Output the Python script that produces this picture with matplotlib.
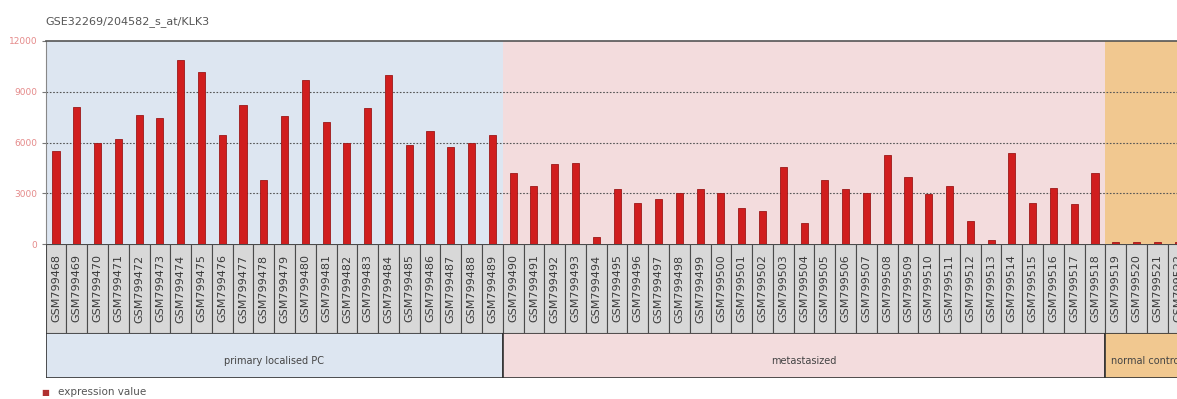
import numpy as np
import matplotlib.pyplot as plt
from matplotlib.patches import Rectangle
from matplotlib import font_manager

title = 'GSE32269/204582_s_at/KLK3'
groups = ['primary localised PC', 'metastasized', 'normal control']
group_sizes = [22, 29, 4]
group_colors = ['#dde6f1', '#f3dcdd', '#f1c890']
samples = ['GSM%d' % n for n in range(799468, 799468 + sum(group_sizes))]

primary = [5500, 8100, 5950, 6230, 7650, 7430, 10880, 10150, 6440, 8220, 3780,
           7590, 9690, 7190, 5990, 8020, 10010, 5850, 6700, 5750, 5950, 6440]
metastasized = [4180, 3430, 4730, 4810, 390, 3250, 2440, 2640, 3000, 3250, 3030,
                2110, 1950, 4570, 1260, 3780, 3230, 3000, 5260, 3960, 2960, 3450,
                1360, 240, 5400, 2440, 3290, 2350, 4180]
normal = [100, 100, 100, 100]
values = primary + metastasized + normal

yticks = [0, 3000, 6000, 9000, 12000]

# narrow font for the sample names if there is one
names = {f.name for f in font_manager.fontManager.ttflist}
narrow = 'Liberation Sans Narrow' if 'Liberation Sans Narrow' in names else 'DejaVu Sans'

W, H = 1177, 399
fig = plt.figure(figsize=(W / 100, H / 100), dpi=100)

left = 45.6
cell = 20.78
xmax = (W - left) / cell - 0.5
xlim = (-0.5, xmax)

def box(top, bottom):
    return [left / W, (H - bottom) / H, (W - left) / W, (bottom - top) / H]

ax = fig.add_axes(box(41, 244))
ax_lab = fig.add_axes(box(244, 333))
ax_grp = fig.add_axes(box(333, 378))

x = np.arange(len(values))
edges = np.concatenate([[0], np.cumsum(group_sizes)]) - 0.5

# background bands per group
for g in range(len(groups)):
    ax.axvspan(edges[g], edges[g + 1], color=group_colors[g], lw=0, zorder=0)

for y in yticks[1:-1]:
    ax.axhline(y, color='#555555', lw=0.8, ls=(0, (1.5, 1.5)), zorder=1)

ax.bar(x, values, width=0.34, color='#d01e1e', edgecolor='#9c1818', lw=0.6, zorder=2)
ax.set_xlim(xlim)
ax.set_ylim(0, 12000)
ax.set_xticks([])
ax.set_yticks(yticks)
ax.set_yticklabels([str(v) for v in yticks], color='#e58a8a', fontsize=6.5)
ax.tick_params(axis='y', length=3, color='#777777', pad=3)
for s in ['right', 'bottom']:
    ax.spines[s].set_visible(False)
ax.spines['top'].set_color('#555555')
ax.spines['top'].set_linewidth(1.2)
ax.spines['left'].set_color('#888888')
ax.spines['left'].set_linewidth(0.8)

fig.text(left / W, 1 - 22 / H, title, fontsize=8, color='#555555', va='center', ha='left')

# sample name boxes
ax_lab.set_xlim(xlim)
ax_lab.set_ylim(0, 1)
ax_lab.axis('off')
for i, name in enumerate(samples):
    ax_lab.add_patch(Rectangle((i - 0.5, 0), 1, 1, facecolor='#d8d8d8',
                               edgecolor='#4a4a4a', lw=0.8, clip_on=True))
    ax_lab.text(i, 0.5, name, rotation=90, ha='center', va='center',
                fontsize=8, color='#3a3a3a', family=narrow, clip_on=True)

# group boxes
ax_grp.set_xlim(xlim)
ax_grp.set_ylim(0, 1)
ax_grp.axis('off')
for g, name in enumerate(groups):
    ax_grp.add_patch(Rectangle((edges[g], 0), edges[g + 1] - edges[g], 1,
                               facecolor=group_colors[g], edgecolor='#333333',
                               lw=1.2, clip_on=True))
    ax_grp.text((edges[g] + edges[g + 1]) / 2, 0.38, name, ha='center', va='center',
                fontsize=7, color='#444444', clip_on=True)

# legend
fig.text(45 / W, 1 - 392 / H, '\u25a0', color='#b03030', fontsize=6, va='center', ha='center')
fig.text(58 / W, 1 - 392 / H, 'expression value', fontsize=7.5, color='#555555',
         va='center', ha='left')

fig.savefig('out.png', dpi=100)
